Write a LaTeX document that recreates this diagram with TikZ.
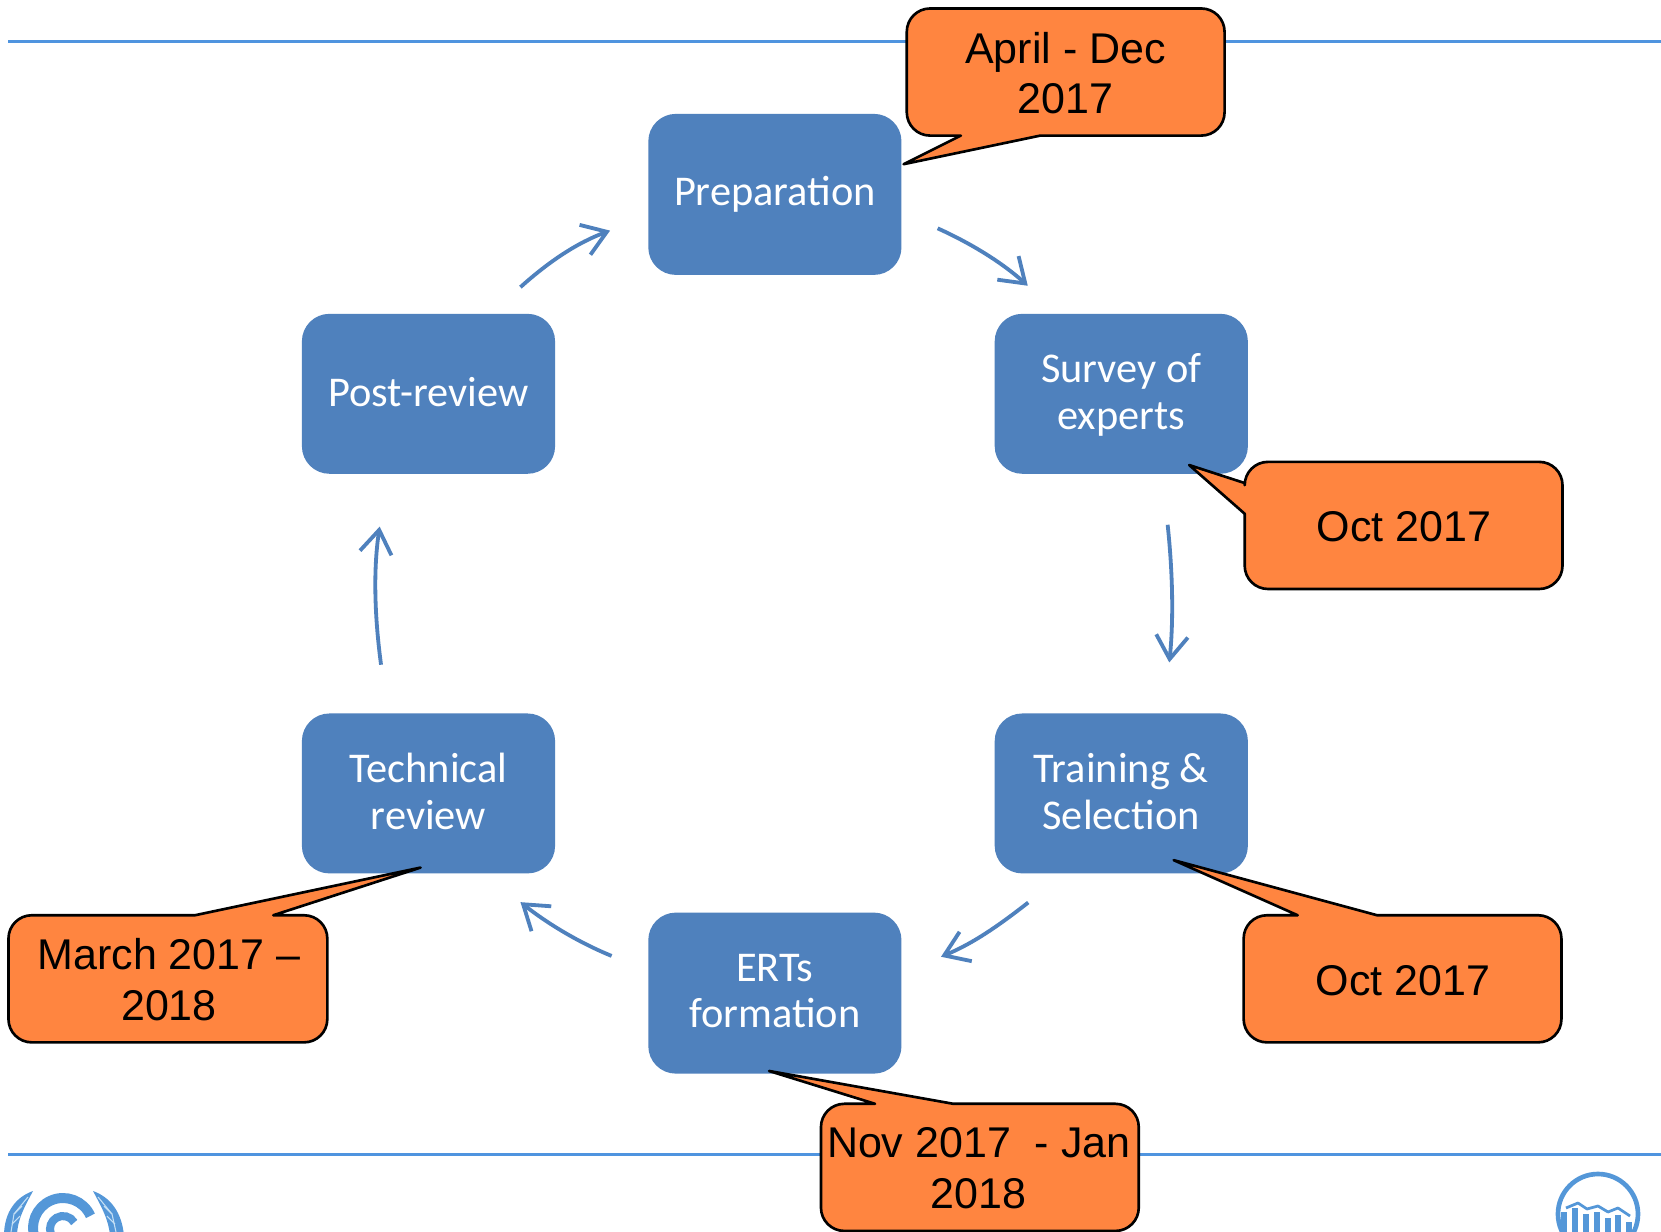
\documentclass[tikz,border=0pt]{standalone}
\usepackage{fontspec}
\setmainfont{Liberation Sans}
\newfontfamily\boxfont{Carlito}
\usetikzlibrary{arrows.meta}
\definecolor{stepblue}{HTML}{4F81BD}
\definecolor{calloutorange}{HTML}{FF8540}
\definecolor{ruleblue}{HTML}{4F94DF}
\definecolor{logoblue}{HTML}{5497D8}
\definecolor{logolight}{HTML}{C5E0F5}
\tikzset{
  stepbox/.style={draw=none,fill=stepblue,rounded corners=13pt,minimum width=119.5pt,minimum height=76pt,inner sep=0pt,
    align=center,text=white,font=\boxfont\fontsize{20}{22}\selectfont},
  shortbox/.style={stepbox,minimum height=75.5pt},
  cyc/.style={draw=stepblue,line width=1.8pt,-{Straight Barb[length=11pt,width=15pt,line width=1.8pt]}},
  calloutshape/.style={draw=black,fill=calloutorange,line width=1.25pt,line join=round},
  callouttext/.style={inner sep=0pt,align=center,text=black,font=\fontsize{20.3}{24}\selectfont},
  hrule/.style={draw=ruleblue,line width=1.2pt},
}
\begin{document}
\begin{tikzpicture}[x=0.5pt,y=-0.5pt]
\clip (0,0) rectangle (1568,1163);
\useasboundingbox (0,0) rectangle (1568,1163);
\fill[white] (0,0) rectangle (1568,1163);
% rules
\draw[hrule] (8,39) -- (1568,39);
\draw[hrule] (8,1090) -- (1568,1090);
% logos (pixel coordinates of the full-size picture)
\begin{scope}[x=0.472pt,y=-0.472pt]
  \draw[logoblue,line width=4.7pt] (63,1228) ++(-24:30) arc[start angle=-24,end angle=-200,radius=30];
  \draw[logoblue,line width=3.8pt] (63,1229) ++(-30:13) arc[start angle=-30,end angle=-200,radius=13];
  \fill[logoblue] (33,1191) .. controls (16,1197) and (4,1212) .. (4,1236) -- (17,1236) .. controls (17,1220) and (25,1206) .. cycle;
  \fill[logoblue] (93,1191) .. controls (110,1197) and (122,1212) .. (124,1236) -- (110,1236) .. controls (109,1220) and (101,1206) .. cycle;
  \draw[logolight,line width=0.5pt] (28,1197) -- (14,1214) -- (11,1232);
  \draw[logolight,line width=0.5pt] (98,1197) -- (112,1214) -- (116,1232);
  \draw[logolight,line width=0.5pt] (14,1214) -- (22,1206) (12,1224) -- (20,1216) (112,1214) -- (104,1206) (115,1224) -- (107,1216);
  \draw[logoblue,line width=2.2pt] (1598,1214) circle[radius=40];
  \foreach \bx/\by in {1564/1212,1575/1208,1586/1214,1597/1212,1608/1218,1618/1215,1629/1222}
    \fill[logoblue] (\bx-3,\by) rectangle (\bx+3,1240);
  \draw[logoblue,line width=1.3pt,line join=round] (1566,1208) -- (1578,1203) -- (1587,1209) -- (1598,1206) -- (1608,1212) -- (1618,1208) -- (1630,1216);
\end{scope}
% steps
\node[stepbox,text depth=3.2pt] (prep) at (731.5,183.5) {Preparation};
\node[shortbox,text depth=2.4pt] (survey) at (1058.5,371.75) {Survey of\\experts};
\node[shortbox,text depth=2pt] (train) at (1058.5,749) {Training \&\\Selection};
\node[stepbox,text depth=2pt] (erts) at (731.5,937.5) {ERTs\\formation};
\node[shortbox,text depth=2pt] (tech) at (404.5,749) {Technical\\review};
\node[shortbox,text depth=2pt] (post) at (404.5,371.75) {Post-review};
% cycle arrows
\draw[cyc,shorten <=18.5pt,shorten >=19.5pt] (prep.-8.8) .. controls (915,229) and (945,247) .. (survey.128.7);
\draw[cyc,shorten <=24pt,shorten >=24pt] (survey.-63.7) .. controls (1107,540) and (1108,585) .. (train.62);
\draw[cyc,shorten <=22pt,shorten >=20pt] (train.-125.4) .. controls (945,872) and (920,890) .. (erts.9.3);
\draw[cyc,shorten <=18.5pt,shorten >=21.5pt] (erts.170.7) .. controls (547,890) and (517,872) .. (tech.-55.6);
\draw[cyc,shorten <=23pt,shorten >=25pt] (tech.117.5) .. controls (354,585) and (352,540) .. (post.-117.8);
\draw[cyc,shorten <=18.5pt,shorten >=19pt] (post.52.7) .. controls (518,247) and (545,229) .. (prep.-170.7);
% callouts
\coordinate (tipA) at (853,155);
\coordinate (tipB) at (1122.6,439);
\coordinate (tipC) at (1108,812);
\coordinate (tipD) at (397,819);
\coordinate (tipE) at (726,1011);
\draw[calloutshape] [rounded corners=11pt] (1000,8) -- (1156,8) -- (1156,128) [sharp corners] -- (982,128) -- (tipA) -- (907,128) [rounded corners=11pt] -- (856,128) -- (856,8) -- cycle;
\draw[calloutshape] [rounded corners=11pt] (1320,436) -- (1475,436) -- (1475,556) -- (1175,556) [sharp corners] -- (1175,485) -- (tipB) -- (1175,456) [rounded corners=11pt] -- (1175,436) -- cycle;
\draw[calloutshape] [rounded corners=11pt] (1400,864) -- (1474,864) -- (1474,984) -- (1174,984) -- (1174,864) [sharp corners] -- (1225,864) -- (tipC) -- (1300,864) [rounded corners=11pt] -- cycle;
\draw[calloutshape] [rounded corners=11pt] (100,864) [sharp corners] -- (184,864) -- (tipD) -- (258,864) [rounded corners=11pt] -- (309,864) -- (309,984) -- (8,984) -- (8,864) -- cycle;
\draw[calloutshape] [rounded corners=11pt] (1000,1042) -- (1075,1042) -- (1075,1162) -- (775,1162) -- (775,1042) [sharp corners] -- (826,1042) -- (tipE) -- (900,1042) [rounded corners=11pt] -- cycle;
\node[callouttext] (dateA) at (1006,69) {April - Dec\\2017};
\node[callouttext] (dateB) at (1325.5,497.5) {Oct 2017};
\node[callouttext] (dateC) at (1324.5,925.5) {Oct 2017};
\node[callouttext] (dateD) at (159.5,925) {March 2017 –\\2018};
\node[callouttext] (dateE) at (924,1103) {Nov 2017\ \ - Jan\\2018};
\end{tikzpicture}
\end{document}
